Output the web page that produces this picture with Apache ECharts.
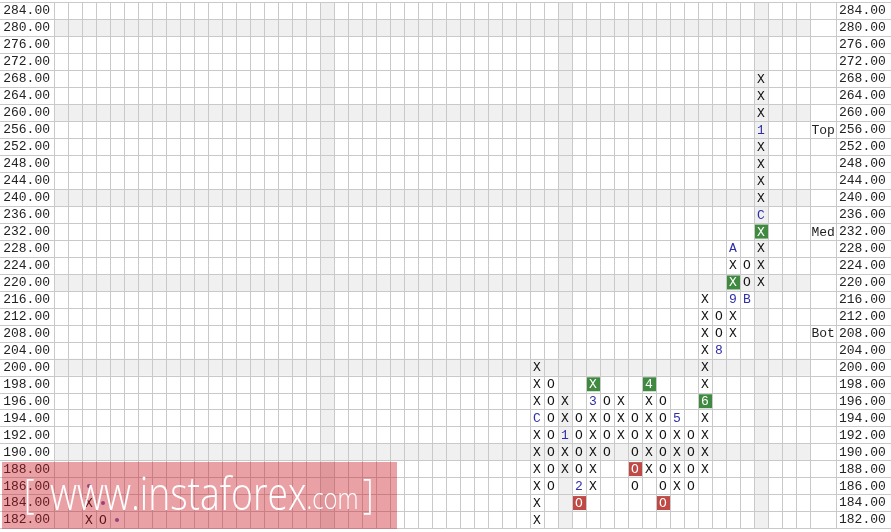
<!DOCTYPE html>
<html>
<head>
<meta charset="utf-8">
<script src="https://cdn.jsdelivr.net/npm/echarts@6/dist/echarts.min.js"></script>
<style>
html,body{margin:0;padding:0;background:#fff;}
#chart{width:891px;height:532px;}
</style>
</head>
<body>
<div id="chart"></div>
<script>
// ---- data ----
const rowValues = [284,280,276,272,268,264,260,256,252,248,244,240,236,232,228,224,220,216,212,208,204,200,198,196,194,192,190,188,186,184,182];
const rowLabels = ['284.00','280.00','276.00','272.00','268.00','264.00','260.00','256.00','252.00','248.00','244.00','240.00','236.00','232.00','228.00','224.00','220.00','216.00','212.00','208.00','204.00','200.00','198.00','196.00','194.00','192.00','190.00','188.00','186.00','184.00','182.00'];
const columnCount = 54;

const colIndex = [2,3,34,35,36,37,38,39,40,41,42,43,44,45,46,47,48,49,50];
const colType  = ['X','O','X','O','X','O','X','O','X','O','X','O','X','O','X','O','X','O','X'];
const colLow   = [182,182,182,186,188,184,186,190,192,186,188,184,186,186,188,204,208,216,220];
const colHigh  = [184,182,200,198,196,194,198,196,196,194,198,196,194,192,216,212,228,224,268];

const markCol  = [34,36,37,38,42,44,46,47,48,48,49,50,50];
const markVal  = [194,192,186,196,198,194,196,204,216,228,216,236,256];
const markText = ['C','1','2','3','4','5','6','8','9','A','B','C','1'];

const greenCol = [38,42,46,48,50];
const greenVal = [198,198,196,220,232];
const redCol   = [37,41,43];
const redVal   = [184,188,184];

const dotCol = [2,3,4];
const dotVal = [186,184,182];

const noteText = ['Top','Med','Bot'];
const noteVal  = [256,232,208];

const shadedCols = [19,36,50];

// ---- build ----
const rowIdx = v => rowValues.indexOf(v);
const cells = [];
colIndex.forEach((c, i) => {
  rowValues.forEach((v, r) => {
    if (v < colLow[i] || v > colHigh[i]) return;
    let text = colType[i], kind = 'plain';
    const m = markCol.findIndex((mc, j) => mc === c && markVal[j] === v);
    if (m >= 0) { text = markText[m]; kind = 'mark'; }
    if (greenCol.some((gc, j) => gc === c && greenVal[j] === v)) kind = 'green';
    if (redCol.some((rc, j) => rc === c && redVal[j] === v)) kind = 'red';
    cells.push({ value: [c, r], text, kind });
  });
});
const shadedRows = rowValues.map((v, r) => v % 10 === 0 ? r : -1).filter(r => r >= 0);
const bands = shadedRows.map(r => ({ value: [0, r], dir: 'row' }))
  .concat(shadedCols.map(c => ({ value: [c, 0], dir: 'col' })));

const LINE = '#c9c9c9';
const MONO = '"Liberation Mono","Courier New",monospace';
const colCats = Array.from({ length: columnCount }, (_, i) => String(i));
const gTop = 2.5, gH = 526;
const WM_FONT = '"Open Sans", sans-serif';
const wmRich = {
  a: { fontFamily: WM_FONT, fontWeight: 300, fontSize: 45.5, fill: '#fff', verticalAlign: 'bottom', height: 49 },
  c: { fontFamily: WM_FONT, fontWeight: 300, fontSize: 29, fill: '#fff', verticalAlign: 'bottom', height: 42 },
  b: { fontFamily: WM_FONT, fontWeight: 300, fontSize: 40, fill: '#fff', verticalAlign: 'bottom', height: 49 }
};

const chart = echarts.init(document.getElementById('chart'), null, { renderer: 'canvas' });
chart.setOption({
  animation: false,
  backgroundColor: '#fff',
  grid: [
    { left: 0, right: 0, top: gTop, height: gH },
    { left: 54, width: 756, top: gTop, height: gH },
    { left: 810, width: 26, top: gTop, height: gH }
  ],
  xAxis: [
    { gridIndex: 0, type: 'value', min: 0, max: 1, show: false },
    { gridIndex: 1, type: 'category', data: colCats, axisLine: { show: false }, axisTick: { show: false }, axisLabel: { show: false },
      splitLine: { show: true, interval: 0, lineStyle: { color: LINE, width: 1 } } },
    { gridIndex: 2, type: 'category', data: [''], axisLine: { show: false }, axisTick: { show: false }, axisLabel: { show: false },
      splitLine: { show: true, interval: 0, lineStyle: { color: LINE, width: 1 } } }
  ],
  yAxis: [
    { gridIndex: 0, type: 'category', data: rowLabels, inverse: true, axisLine: { show: false }, axisTick: { show: false }, axisLabel: { show: false },
      splitLine: { show: true, interval: 0, lineStyle: { color: LINE, width: 1 } } },
    { gridIndex: 1, type: 'category', data: rowLabels, inverse: true, position: 'left', axisLine: { show: false }, axisTick: { show: false },
      axisLabel: { show: true, interval: 0, margin: 4, fontFamily: MONO, fontSize: 13, color: '#222' }, splitLine: { show: false } },
    { gridIndex: 2, type: 'category', data: rowLabels, inverse: true, position: 'right', axisLine: { show: false }, axisTick: { show: false },
      axisLabel: { show: true, interval: 0, margin: 3, fontFamily: MONO, fontSize: 13, color: '#222' }, splitLine: { show: false } }
  ],
  series: [
    {
      type: 'custom', xAxisIndex: 1, yAxisIndex: 1, z: -5, silent: true,
      data: bands,
      renderItem: function (params, api) {
        const b = bands[params.dataIndex];
        const cs = params.coordSys;
        const c = api.coord([api.value(0), api.value(1)]);
        const s = api.size([1, 1]);
        const shape = b.dir === 'row'
          ? { x: cs.x, y: c[1] - s[1] / 2, width: cs.width, height: s[1] }
          : { x: c[0] - s[0] / 2, y: cs.y, width: s[0], height: cs.height };
        return { type: 'rect', shape, style: { fill: '#f0f0f0' } };
      }
    },
    {
      type: 'custom', xAxisIndex: 1, yAxisIndex: 1, z: 3, silent: true,
      data: cells,
      renderItem: function (params, api) {
        const d = cells[params.dataIndex];
        const c = api.coord([api.value(0), api.value(1)]);
        const s = api.size([1, 1]);
        const children = [];
        if (d.kind === 'green' || d.kind === 'red') {
          children.push({ type: 'rect', shape: { x: c[0] - s[0] / 2 + 1, y: c[1] - s[1] / 2 + 1.5, width: s[0] - 1, height: s[1] - 3 },
            style: { fill: d.kind === 'green' ? '#3f8a40' : '#bf4a45' } });
        }
        const color = (d.kind === 'green' || d.kind === 'red') ? '#fff' : (d.kind === 'mark' ? '#2e2ea8' : '#111');
        children.push({ type: 'text', x: c[0], y: c[1] + 0.5,
          style: { text: d.text, fill: color, font: '13px ' + MONO, align: 'center', verticalAlign: 'middle' } });
        return { type: 'group', children };
      }
    },
    {
      type: 'scatter', xAxisIndex: 1, yAxisIndex: 1, z: 3, silent: true,
      symbol: 'circle', symbolSize: 4,
      itemStyle: { color: '#5a3c9a' },
      data: dotCol.map((c, i) => [c, rowIdx(dotVal[i])])
    },
    {
      type: 'custom', xAxisIndex: 2, yAxisIndex: 2, z: 3, silent: true,
      data: noteVal.map(v => [0, rowIdx(v)]),
      renderItem: function (params, api) {
        const c = api.coord([0, api.value(1)]);
        const s = api.size([1, 1]);
        return { type: 'text', x: c[0] - s[0] / 2 + 1.5, y: c[1] + 0.5,
          style: { text: noteText[params.dataIndex], fill: '#222', font: '13px ' + MONO, align: 'left', verticalAlign: 'middle' } };
      }
    }
  ],
  graphic: [
    { type: 'rect', z: 100, shape: { x: 2, y: 462, width: 395, height: 67 }, style: { fill: 'rgba(200,20,32,0.4)' } },
    { type: 'text', z: 101, x: 24, y: 497, scaleX: 0.82,
      style: { text: '{b|[}', verticalAlign: 'middle', rich: wmRich } },
    { type: 'text', z: 101, x: 50, y: 497, scaleX: 0.82,
      style: { text: '{a|www.instaforex}{c|.com}', verticalAlign: 'middle', rich: wmRich } },
    { type: 'text', z: 101, x: 363, y: 497, scaleX: 0.82,
      style: { text: '{b|]}', verticalAlign: 'middle', rich: wmRich } }
  ]
});
</script>
</body>
</html>
